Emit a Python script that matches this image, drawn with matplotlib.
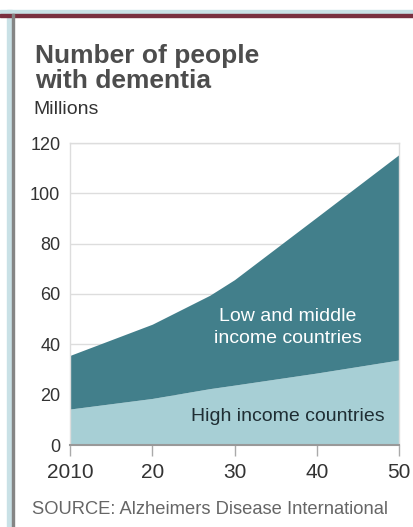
import matplotlib
matplotlib.use("Agg")
import matplotlib.pyplot as plt
from matplotlib.patches import Rectangle

plt.rcParams["font.family"] = ["Liberation Sans", "DejaVu Sans"]

# Millions of people with dementia
years = [2010, 2020, 2027, 2030, 2040, 2050]
high_income = [14.3, 18.5, 22.4, 23.8, 28.6, 33.8]
total = [35.6, 48.0, 59.5, 65.7, 90.5, 115.4]

x_ticks = [2010, 2020, 2030, 2040, 2050]
x_labels = ["2010", "20", "30", "40", "50"]
y_ticks = [0, 20, 40, 60, 80, 100, 120]

dark = "#427f8b"
light = "#a7cfd5"

W, H = 413, 527
fig = plt.figure(figsize=(W / 100, H / 100), dpi=100)
fig.patch.set_facecolor("white")

# frame bits around the graphic
def strip(x, y, w, h, color, z):
    fig.patches.append(Rectangle((x / W, 1 - (y + h) / H), w / W, h / H,
                                 transform=fig.transFigure, color=color, zorder=z))

strip(0, 10, W, 4, "#c9e1e6", 0)
strip(0, 14, W, 3, "#7a3040", 1)
strip(7, 10, 5, H, "#c9e1e6", 0)
strip(12, 14, 1.6, H, "#858585", 1)

ax = fig.add_axes([70 / W, 82 / H, 329 / W, 302 / H])

ax.fill_between(years, 0, high_income, color=light, linewidth=0, zorder=2)
ax.fill_between(years, high_income, total, color=dark, linewidth=0, zorder=2)

ax.set_xlim(2010, 2050)
ax.set_ylim(0, 120)
ax.set_xticks(x_ticks)
ax.set_xticklabels(x_labels, fontsize=15, color="#333333")
ax.set_yticks(y_ticks)
ax.set_yticklabels([str(v) for v in y_ticks], fontsize=13, color="#333333")
ax.tick_params(axis="y", length=0, pad=7)
ax.tick_params(axis="x", length=8, width=1, color="#aaaaaa", pad=5)

ax.grid(axis="y", color="#dddddd", linewidth=1, zorder=1)
ax.set_axisbelow(True)
for side in ["top", "left", "right"]:
    ax.spines[side].set_color("#dddddd")
    ax.spines[side].set_linewidth(1)
ax.spines["bottom"].set_color("#999999")
ax.spines["bottom"].set_linewidth(1.5)
ax.spines["bottom"].set_zorder(3)

ax.text(2036.5, 51.0, "Low and middle", color="white", fontsize=14,
        ha="center", va="center", zorder=3)
ax.text(2036.5, 42.4, "income countries", color="white", fontsize=14,
        ha="center", va="center", zorder=3)
ax.text(2048.3, 11.2, "High income countries", color="#1f2e34", fontsize=14,
        ha="right", va="center", zorder=3)

fig.text(35 / W, 1 - 63 / H, "Number of people", fontsize=19, fontweight="bold",
         color="#4d4d4d", ha="left", va="baseline")
fig.text(35 / W, 1 - 88 / H, "with dementia", fontsize=19, fontweight="bold",
         color="#4d4d4d", ha="left", va="baseline")
fig.text(33 / W, 1 - 110 / H, "Millions", fontsize=14, color="#333333",
         ha="left", va="center")
fig.text(32 / W, 1 - 509 / H, "SOURCE: Alzheimers Disease International", fontsize=13.2,
         color="#666666", ha="left", va="center")

fig.savefig("out.png", dpi=100, facecolor=fig.get_facecolor())
